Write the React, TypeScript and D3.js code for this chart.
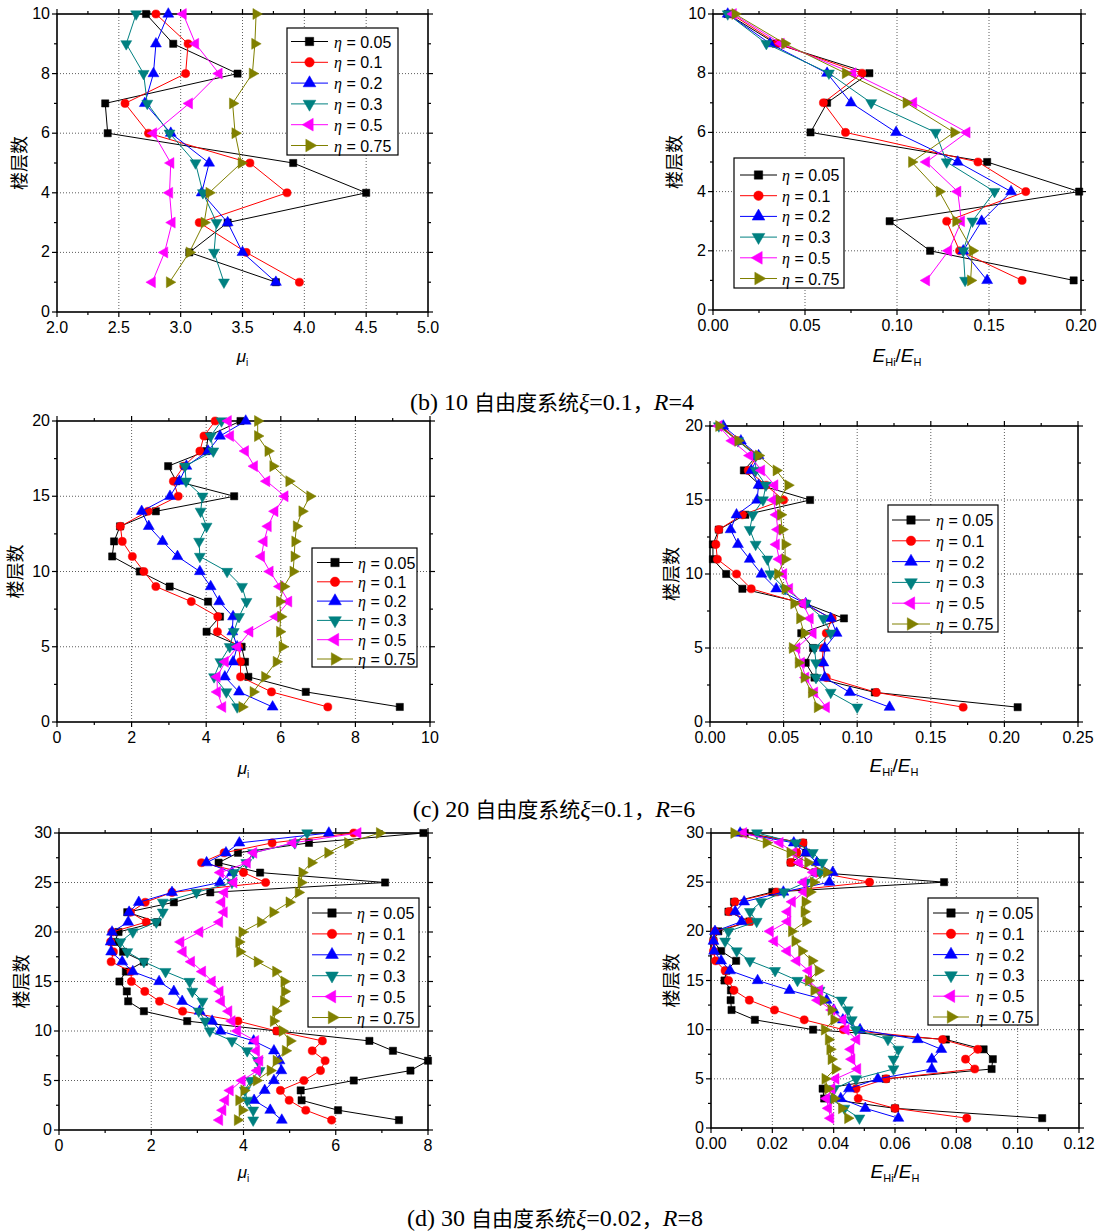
import React from 'react';
import * as d3 from 'd3';

const ETA_LABELS = ['0.05', '0.1', '0.2', '0.3', '0.5', '0.75'];
const COLORS = ['#000000', '#ff0000', '#0000ff', '#008080', '#ff00ff', '#808000'];
const SHAPES = ['square', 'circle', 'up', 'down', 'left', 'right'];

// (b) 10 DOF — mu_i, floor 1..10
const b_mu_005 = [3.77, 3.07, 3.38, 4.5, 3.91, 2.41, 2.39, 3.46, 2.94, 2.72];
const b_mu_01 = [3.96, 3.53, 3.15, 3.86, 3.56, 2.74, 2.55, 3.04, 3.06, 2.8];
const b_mu_02 = [3.77, 3.5, 3.38, 3.17, 3.23, 2.92, 2.71, 2.78, 2.8, 2.9];
const b_mu_03 = [3.35, 3.27, 3.29, 3.18, 3.12, 2.91, 2.73, 2.7, 2.56, 2.64];
const b_mu_05 = [2.77, 2.87, 2.93, 2.91, 2.92, 2.78, 3.07, 3.31, 3.12, 3.02];
const b_mu_075 = [2.91, 3.07, 3.19, 3.23, 3.49, 3.44, 3.42, 3.58, 3.6, 3.61];

// (b) 10 DOF — EHi/EH
const b_e_005 = [0.196, 0.118, 0.096, 0.199, 0.149, 0.053, 0.062, 0.085, 0.034, 0.008];
const b_e_01 = [0.168, 0.134, 0.127, 0.17, 0.144, 0.072, 0.06, 0.081, 0.035, 0.01];
const b_e_02 = [0.149, 0.136, 0.146, 0.162, 0.133, 0.0995, 0.075, 0.062, 0.031, 0.008];
const b_e_03 = [0.137, 0.136, 0.141, 0.153, 0.127, 0.121, 0.086, 0.063, 0.029, 0.008];
const b_e_05 = [0.116, 0.128, 0.135, 0.133, 0.116, 0.138, 0.109, 0.076, 0.037, 0.011];
const b_e_075 = [0.14, 0.141, 0.132, 0.123, 0.108, 0.131, 0.105, 0.072, 0.039, 0.012];

// (c) 20 DOF — mu_i
const c_mu_005 = [9.19, 6.67, 5.13, 5.04, 4.95, 4.01, 4.37, 4.05, 3.02, 2.22, 1.48, 1.53, 1.69, 2.65, 4.75, 3.2, 2.98, 4.0, 4.05, 4.92];
const c_mu_01 = [7.26, 5.75, 4.92, 4.92, 4.87, 4.3, 4.31, 3.6, 2.65, 2.33, 2.02, 1.75, 1.7, 2.44, 3.25, 3.12, 3.4, 3.83, 3.94, 4.24];
const c_mu_02 = [5.78, 4.88, 4.5, 4.72, 4.83, 4.7, 4.72, 4.35, 4.12, 3.83, 3.23, 2.83, 2.46, 2.27, 3.03, 3.28, 3.47, 4.05, 4.37, 5.06];
const c_mu_03 = [4.83, 4.54, 4.21, 4.38, 4.63, 4.74, 4.88, 5.08, 4.96, 4.56, 3.83, 3.81, 4.01, 3.85, 3.9, 3.46, 3.43, 4.19, 4.12, 4.41];
const c_mu_05 = [4.44, 4.3, 4.29, 4.51, 4.84, 5.17, 5.87, 6.21, 5.97, 5.71, 5.48, 5.55, 5.66, 5.84, 6.11, 5.62, 5.29, 5.05, 4.65, 4.59];
const c_mu_075 = [4.96, 5.26, 5.57, 5.88, 6.04, 5.97, 6.0, 5.97, 6.08, 6.33, 6.36, 6.38, 6.42, 6.57, 6.78, 6.22, 5.79, 5.66, 5.38, 5.38];

// (c) 20 DOF — EHi/EH
const c_e_005 = [0.209, 0.112, 0.071, 0.065, 0.07, 0.062, 0.091, 0.065, 0.022, 0.011, 0.002, 0.002, 0.006, 0.024, 0.068, 0.034, 0.023, 0.032, 0.019, 0.007];
const c_e_01 = [0.172, 0.113, 0.079, 0.076, 0.077, 0.079, 0.083, 0.063, 0.028, 0.018, 0.005, 0.004, 0.006, 0.022, 0.05, 0.038, 0.026, 0.032, 0.019, 0.008];
const c_e_02 = [0.122, 0.095, 0.078, 0.077, 0.078, 0.086, 0.082, 0.065, 0.045, 0.035, 0.027, 0.019, 0.014, 0.018, 0.032, 0.033, 0.028, 0.033, 0.021, 0.009];
const c_e_03 = [0.1, 0.082, 0.072, 0.072, 0.071, 0.082, 0.077, 0.065, 0.051, 0.041, 0.039, 0.031, 0.027, 0.029, 0.036, 0.038, 0.031, 0.031, 0.019, 0.006];
const c_e_05 = [0.079, 0.071, 0.065, 0.062, 0.059, 0.07, 0.068, 0.063, 0.054, 0.05, 0.047, 0.045, 0.046, 0.045, 0.043, 0.044, 0.035, 0.027, 0.015, 0.006];
const c_e_075 = [0.073, 0.069, 0.064, 0.06, 0.056, 0.064, 0.061, 0.057, 0.051, 0.046, 0.051, 0.051, 0.049, 0.048, 0.047, 0.053, 0.045, 0.033, 0.019, 0.006];

// (d) 30 DOF — mu_i
const d_mu_005 = [7.37, 6.05, 5.26, 5.24, 6.39, 7.62, 8.0, 7.24, 6.73, 4.73, 2.78, 1.84, 1.5, 1.47, 1.31, 1.45, 1.84, 1.39, 1.21, 1.29, 2.13, 1.48, 2.49, 3.28, 7.07, 4.36, 3.46, 3.88, 5.42, 7.9];
const d_mu_01 = [5.91, 5.35, 4.99, 4.8, 5.31, 5.67, 5.77, 5.49, 5.71, 4.72, 3.88, 2.68, 2.18, 1.86, 1.57, 1.56, 1.13, 1.18, 1.12, 1.15, 1.89, 1.55, 1.87, 2.45, 4.48, 4.0, 3.09, 3.58, 4.62, 6.39];
const d_mu_02 = [4.83, 4.58, 4.23, 4.46, 4.66, 4.82, 4.78, 4.66, 4.22, 3.5, 3.32, 3.05, 2.67, 2.49, 2.17, 1.6, 1.37, 1.13, 1.12, 1.15, 1.5, 1.52, 1.73, 2.45, 3.49, 3.75, 3.2, 3.62, 3.91, 5.85];
const d_mu_03 = [4.21, 4.21, 4.08, 4.03, 4.15, 4.35, 4.31, 4.08, 3.75, 3.27, 3.17, 3.03, 3.11, 2.89, 2.83, 2.31, 1.84, 1.48, 1.33, 1.6, 2.11, 2.25, 2.25, 2.98, 3.75, 3.79, 4.06, 4.21, 5.11, 5.38];
const d_mu_05 = [3.48, 3.55, 3.61, 3.71, 3.97, 4.3, 4.35, 4.28, 4.26, 3.87, 3.75, 3.68, 3.52, 3.49, 3.32, 3.11, 2.87, 2.69, 2.64, 3.05, 3.48, 3.58, 3.53, 3.59, 3.79, 3.5, 4.08, 4.22, 5.07, 6.48];
const d_mu_075 = [3.87, 3.97, 3.9, 4.01, 4.28, 4.58, 4.71, 4.91, 5.01, 4.84, 4.65, 4.7, 4.87, 4.89, 4.88, 4.7, 4.3, 3.92, 3.9, 3.97, 4.37, 4.64, 4.99, 5.19, 5.25, 5.27, 5.47, 5.83, 6.26, 6.95];

// (d) 30 DOF — EHi/EH
const d_e_005 = [0.108, 0.06, 0.0369, 0.0364, 0.057, 0.0915, 0.0919, 0.0889, 0.0766, 0.0333, 0.0143, 0.0067, 0.0064, 0.0065, 0.0044, 0.005, 0.0082, 0.0033, 0.0008, 0.0024, 0.0125, 0.0057, 0.0075, 0.02, 0.076, 0.034, 0.026, 0.031, 0.03, 0.011];
const d_e_01 = [0.0834, 0.06, 0.048, 0.0473, 0.0571, 0.086, 0.083, 0.087, 0.0755, 0.0432, 0.0304, 0.0207, 0.0125, 0.0075, 0.0057, 0.0046, 0.0015, 0.0008, 0.0008, 0.0013, 0.0127, 0.0059, 0.0078, 0.0214, 0.0517, 0.0345, 0.026, 0.028, 0.03, 0.01];
const d_e_02 = [0.0611, 0.0503, 0.0423, 0.045, 0.0544, 0.072, 0.072, 0.0751, 0.0674, 0.0486, 0.043, 0.04, 0.0377, 0.0256, 0.0152, 0.0062, 0.0033, 0.001, 0.0008, 0.0013, 0.01, 0.0079, 0.0108, 0.0236, 0.0386, 0.0397, 0.0345, 0.031, 0.027, 0.0095];
const d_e_03 = [0.0484, 0.0435, 0.039, 0.0402, 0.0473, 0.0595, 0.0595, 0.0611, 0.0577, 0.0472, 0.0459, 0.0446, 0.0426, 0.0354, 0.0282, 0.0209, 0.0127, 0.0084, 0.0046, 0.0057, 0.0149, 0.0127, 0.0163, 0.0238, 0.031, 0.0356, 0.0363, 0.0332, 0.0277, 0.015];
const d_e_05 = [0.039, 0.0383, 0.0377, 0.0394, 0.0407, 0.0478, 0.0459, 0.0456, 0.0475, 0.044, 0.043, 0.0394, 0.0348, 0.0354, 0.0318, 0.0318, 0.028, 0.0249, 0.0207, 0.0193, 0.025, 0.025, 0.0265, 0.0304, 0.0301, 0.0334, 0.0288, 0.0269, 0.0225, 0.0106];
const d_e_075 = [0.0446, 0.0426, 0.0402, 0.0381, 0.0372, 0.0405, 0.0392, 0.0388, 0.0383, 0.037, 0.0401, 0.0392, 0.0366, 0.0336, 0.0318, 0.035, 0.0329, 0.0296, 0.0274, 0.0263, 0.0309, 0.0304, 0.0307, 0.0323, 0.0334, 0.0377, 0.0316, 0.0258, 0.018, 0.0075];

const SANS = '"Liberation Sans", Arial, sans-serif';
const SERIF = '"Liberation Serif", "Times New Roman", serif';
const CJK = '"Noto Sans CJK SC", sans-serif';

const ROT: Record<string, number> = { square: 0, circle: 0, up: 0, down: 180, left: -90, right: 90 };

function markerPath(shape: string, size: number) {
  const type = shape === 'square' ? d3.symbolSquare : shape === 'circle' ? d3.symbolCircle : d3.symbolTriangle;
  return d3.symbol().type(type).size(size)() as string;
}

function Marker({ cx, cy, shape, color, size }: any) {
  return (
    <path
      d={markerPath(shape, size)}
      transform={`translate(${cx},${cy}) rotate(${ROT[shape]})`}
      fill={color}
      stroke={color}
      strokeWidth={0.5}
    />
  );
}

function ticksOf(d0: number, d1: number, step: number) {
  const n = Math.round((d1 - d0) / step);
  return d3.range(0, n + 1).map((i) => +(d0 + i * step).toFixed(6));
}

function Panel(props: any) {
  const { box, xDom, xStep, xMinor, xFmt, yDom, yStep, yMinor, series, legend, xLabel, yLabelX, xLabelDy } = props;
  const { l, t, r, b } = box;
  const x = d3.scaleLinear().domain(xDom).range([l, r]);
  const y = d3.scaleLinear().domain(yDom).range([b, t]);
  const xMaj = ticksOf(xDom[0], xDom[1], xStep);
  const xMin = ticksOf(xDom[0], xDom[1], xMinor);
  const yMaj = ticksOf(yDom[0], yDom[1], yStep);
  const yMin = ticksOf(yDom[0], yDom[1], yMinor);
  const fx = d3.format(xFmt);
  const line = d3
    .line<[number, number]>()
    .x((d) => x(d[0]))
    .y((d) => y(d[1]));
  const cy = (t + b) / 2;
  const cx = (l + r) / 2;
  return (
    <g>
      {xMaj.slice(1, -1).map((v) => (
        <line key={'gx' + v} x1={x(v)} x2={x(v)} y1={t} y2={b} stroke="#333" strokeWidth={0.8} strokeDasharray="1,2" />
      ))}
      {yMaj.slice(1, -1).map((v) => (
        <line key={'gy' + v} x1={l} x2={r} y1={y(v)} y2={y(v)} stroke="#333" strokeWidth={0.8} strokeDasharray="1,2" />
      ))}
      {xMin.map((v) => {
        const major = xMaj.includes(v);
        const len = major ? 5 : 3;
        return (
          <g key={'tx' + v}>
            <line x1={x(v)} x2={x(v)} y1={b} y2={b + len} stroke="#000" strokeWidth={1.2} />
            <line x1={x(v)} x2={x(v)} y1={t} y2={t - len} stroke="#000" strokeWidth={1.2} />
          </g>
        );
      })}
      {yMin.map((v) => {
        const major = yMaj.includes(v);
        const len = major ? 5 : 3;
        return (
          <g key={'ty' + v}>
            <line x1={l} x2={l - len} y1={y(v)} y2={y(v)} stroke="#000" strokeWidth={1.2} />
            <line x1={r} x2={r + len} y1={y(v)} y2={y(v)} stroke="#000" strokeWidth={1.2} />
          </g>
        );
      })}
      {xMaj.map((v) => (
        <text key={'lx' + v} x={x(v)} y={b + 21} textAnchor="middle" fontFamily={SANS} fontSize={16}>
          {fx(v)}
        </text>
      ))}
      {yMaj.map((v) => (
        <text key={'ly' + v} x={l - 7} y={y(v) + 5} textAnchor="end" fontFamily={SANS} fontSize={16}>
          {v}
        </text>
      ))}
      <rect x={l} y={t} width={r - l} height={b - t} fill="none" stroke="#000" strokeWidth={1.6} />
      {series.map((vals: number[], si: number) => {
        const pts: [number, number][] = vals.map((v, i) => [v, i + 1]);
        return (
          <g key={'s' + si}>
            <path d={line(pts) as string} fill="none" stroke={COLORS[si]} strokeWidth={1} />
            {pts.map((p, i) => (
              <Marker key={i} cx={x(p[0])} cy={y(p[1])} shape={SHAPES[si]} color={COLORS[si]} size={52} />
            ))}
          </g>
        );
      })}
      <g>
        <rect x={legend.x} y={legend.y} width={legend.w} height={legend.h} fill="#fff" stroke="#000" strokeWidth={1.2} />
        {ETA_LABELS.map((lab, i) => {
          const yy = legend.y0 + i * legend.dy;
          const mx = (legend.lx0 + legend.lx1) / 2;
          return (
            <g key={'lg' + i}>
              <line x1={legend.lx0} x2={legend.lx1} y1={yy} y2={yy} stroke={COLORS[i]} strokeWidth={1} />
              <Marker cx={mx} cy={yy} shape={SHAPES[i]} color={COLORS[i]} size={70} />
              <text x={legend.tx} y={yy + 6} fontFamily={SANS} fontSize={16}>
                <tspan fontFamily={SERIF} fontStyle="italic">η</tspan>
                {' = ' + lab}
              </text>
            </g>
          );
        })}
      </g>
      <text
        transform={`translate(${yLabelX},${cy}) rotate(-90)`}
        textAnchor="middle"
        fontFamily={CJK}
        fontSize={18}
        dy={6}
      >
        楼层数
      </text>
      {xLabel === 'mu' ? (
        <text x={cx} y={b + xLabelDy} textAnchor="middle" fontFamily={SANS} fontSize={17}>
          <tspan fontStyle="italic">μ</tspan>
          <tspan fontSize={10} dy={4}>i</tspan>
        </text>
      ) : (
        <text x={cx} y={b + xLabelDy} textAnchor="middle" fontFamily={SANS} fontSize={19}>
          <tspan fontStyle="italic">E</tspan>
          <tspan fontSize={11} dy={4}>Hi</tspan>
          <tspan dy={-4}>/</tspan>
          <tspan fontStyle="italic">E</tspan>
          <tspan fontSize={11} dy={4}>H</tspan>
        </text>
      )}
    </g>
  );
}

function Caption({ x, y, prefix, xi, rv }: any) {
  return (
    <text x={x} y={y} textAnchor="middle" fontFamily={`${SERIF}, ${CJK}`} fontSize={24}>
      <tspan>{prefix}</tspan>
      <tspan fontFamily={CJK} fontSize={21}>自由度系统</tspan>
      <tspan fontStyle="italic">ξ</tspan>
      <tspan>{'=' + xi}</tspan>
      <tspan fontFamily={CJK} fontSize={21}>，</tspan>
      <tspan fontStyle="italic">R</tspan>
      <tspan>{'=' + rv}</tspan>
    </text>
  );
}

export default function App() {
  return (
    <svg
      width={1099}
      height={1232}
      style={{ position: 'absolute', left: 0, top: 0, background: '#fff' }}
    >
      <rect x={0} y={0} width={1099} height={1232} fill="#fff" />
      <Panel
        box={{ l: 57, t: 14, r: 428, b: 312 }}
        xDom={[2, 5]} xStep={0.5} xMinor={0.25} xFmt=".1f"
        yDom={[0, 10]} yStep={2} yMinor={1}
        series={[b_mu_005, b_mu_01, b_mu_02, b_mu_03, b_mu_05, b_mu_075]}
        legend={{ x: 287, y: 28, w: 111, h: 127, y0: 41.5, dy: 20.8, lx0: 291, lx1: 328, tx: 334 }}
        xLabel="mu" xLabelDy={50} yLabelX={20}
      />
      <Panel
        box={{ l: 713, t: 14, r: 1081, b: 310 }}
        xDom={[0, 0.2]} xStep={0.05} xMinor={0.025} xFmt=".2f"
        yDom={[0, 10]} yStep={2} yMinor={1}
        series={[b_e_005, b_e_01, b_e_02, b_e_03, b_e_05, b_e_075]}
        legend={{ x: 734, y: 158, w: 110, h: 130, y0: 175, dy: 20.7, lx0: 740, lx1: 777, tx: 782 }}
        xLabel="e" xLabelDy={52} yLabelX={675}
      />
      <Caption x={552} y={410} prefix="(b) 10 " xi="0.1" rv="4" />
      <Panel
        box={{ l: 57, t: 421, r: 430, b: 722 }}
        xDom={[0, 10]} xStep={2} xMinor={1} xFmt="d"
        yDom={[0, 20]} yStep={5} yMinor={2.5}
        series={[c_mu_005, c_mu_01, c_mu_02, c_mu_03, c_mu_05, c_mu_075]}
        legend={{ x: 312, y: 548, w: 105, h: 119, y0: 562.5, dy: 19.3, lx0: 317, lx1: 353, tx: 358 }}
        xLabel="mu" xLabelDy={52} yLabelX={16}
      />
      <Panel
        box={{ l: 710, t: 426, r: 1078, b: 722 }}
        xDom={[0, 0.25]} xStep={0.05} xMinor={0.025} xFmt=".2f"
        yDom={[0, 20]} yStep={5} yMinor={2.5}
        series={[c_e_005, c_e_01, c_e_02, c_e_03, c_e_05, c_e_075]}
        legend={{ x: 888, y: 505, w: 110, h: 127, y0: 520, dy: 20.8, lx0: 892, lx1: 930, tx: 936 }}
        xLabel="e" xLabelDy={50} yLabelX={672}
      />
      <Caption x={554} y={817} prefix="(c) 20 " xi="0.1" rv="6" />
      <Panel
        box={{ l: 59, t: 833, r: 428, b: 1130 }}
        xDom={[0, 8]} xStep={2} xMinor={1} xFmt="d"
        yDom={[0, 30]} yStep={5} yMinor={2.5}
        series={[d_mu_005, d_mu_01, d_mu_02, d_mu_03, d_mu_05, d_mu_075]}
        legend={{ x: 308, y: 898, w: 111, h: 129, y0: 913, dy: 20.9, lx0: 312, lx1: 352, tx: 357 }}
        xLabel="mu" xLabelDy={48} yLabelX={22}
      />
      <Panel
        box={{ l: 711, t: 833, r: 1079, b: 1128 }}
        xDom={[0, 0.12]} xStep={0.02} xMinor={0.01} xFmt=".2f"
        yDom={[0, 30]} yStep={5} yMinor={2.5}
        series={[d_e_005, d_e_01, d_e_02, d_e_03, d_e_05, d_e_075]}
        legend={{ x: 928, y: 898, w: 110, h: 127, y0: 913, dy: 20.8, lx0: 933, lx1: 969, tx: 976 }}
        xLabel="e" xLabelDy={50} yLabelX={672}
      />
      <Caption x={555} y={1226} prefix="(d) 30 " xi="0.02" rv="8" />
    </svg>
  );
}
